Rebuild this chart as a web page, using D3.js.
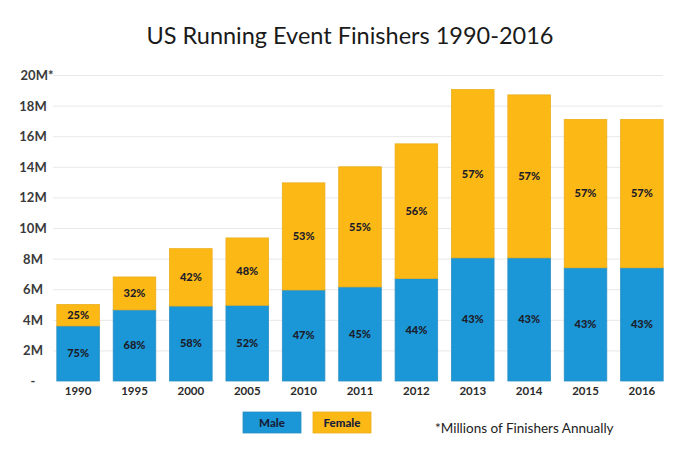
<!DOCTYPE html>
<html>
<head>
<meta charset="utf-8">
<script src="https://cdn.jsdelivr.net/npm/d3@7"></script>
<style>
  html, body { margin: 0; padding: 0; background: #fff; }
  svg { display: block; }
</style>
</head>
<body>
<svg id="chart" width="676" height="459"></svg>
<script>
// ---- data (millions of finishers) ----
const years = ["1990","1995","2000","2005","2010","2011","2012","2013","2014","2015","2016"];
const male   = [3.6, 4.65, 4.9, 4.95, 5.95, 6.15, 6.7, 8.05, 8.05, 7.4, 7.4];
const female = [1.4, 2.15, 3.75, 4.4, 7.0, 7.85, 8.8, 11.0, 10.65, 9.7, 9.7];
const malePct   = ["75%","68%","58%","52%","47%","45%","44%","43%","43%","43%","43%"];
const femalePct = ["25%","32%","42%","48%","53%","55%","56%","57%","57%","57%","57%"];
const yTicks = [0, 2, 4, 6, 8, 10, 12, 14, 16, 18, 20];
const yTickLabels = ["-", "2M", "4M", "6M", "8M", "10M", "12M", "14M", "16M", "18M", "20M*"];
const seriesNames = ["Male", "Female"];
const title = "US Running Event Finishers 1990-2016";
const footnote = "*Millions of Finishers Annually";

(function () {
const colors = { Male: "#1b96d6", Female: "#fcb814" };
const font = "Lato, 'Open Sans', sans-serif";

const svg = d3.select("#chart");
const mLeft = 53, mRight = 663, mTop = 75, mBottom = 381;

const x = d3.scaleBand().domain(years).range([mLeft + 1, mRight + 3]).paddingInner(0.245).paddingOuter(0.05);
const y = d3.scaleLinear().domain([0, 20]).range([mBottom, mTop]);

// title
svg.append("text")
  .attr("x", 350).attr("y", 44)
  .attr("text-anchor", "middle")
  .attr("font-family", font)
  .attr("font-size", 23.5)
  .attr("fill", "#1a1a1a")
  .text(title);

// gridlines
svg.append("g").selectAll("line")
  .data(yTicks.filter(d => d > 0))
  .join("line")
  .attr("x1", mLeft).attr("x2", mRight)
  .attr("y1", d => y(d) + 0.5).attr("y2", d => y(d) + 0.5)
  .attr("stroke", "#e8e8e8").attr("stroke-width", 1);

// y axis
const yAxis = svg.append("g")
  .attr("transform", `translate(${mLeft},0)`)
  .call(d3.axisLeft(y).tickValues(yTicks).tickFormat((d, i) => yTickLabels[i]).tickSize(0));
yAxis.select(".domain").remove();
yAxis.selectAll("text")
  .attr("font-family", font)
  .attr("font-size", 13)
  .attr("font-weight", "bold")
  .attr("fill", "#3a3a3a")
  .attr("text-anchor", "middle")
  .attr("x", 33 - mLeft)
  .attr("dy", "0.35em");
yAxis.selectAll(".tick").filter(d => d === 20).select("text")
  .attr("x", 37 - mLeft);

// x axis
const xAxis = svg.append("g")
  .attr("transform", `translate(0,${mBottom})`)
  .call(d3.axisBottom(x).tickSize(0));
xAxis.select(".domain").remove();
xAxis.selectAll("text")
  .attr("font-family", font)
  .attr("font-size", 11.5)
  .attr("font-weight", "bold")
  .attr("fill", "#2a2a2a")
  .attr("dy", "0.95em");

// stacked bars
const rows = years.map((yr, i) => ({ year: yr, Male: male[i], Female: female[i], mp: malePct[i], fp: femalePct[i] }));
const stack = d3.stack().keys(seriesNames)(rows);

const g = svg.append("g");
stack.forEach(layer => {
  g.append("g").selectAll("rect")
    .data(layer)
    .join("rect")
    .attr("x", d => x(d.data.year))
    .attr("width", x.bandwidth())
    .attr("y", d => y(d[1]))
    .attr("height", d => y(d[0]) - y(d[1]))
    .attr("fill", colors[layer.key])
    .attr("stroke", layer.key === "Male" ? "#2a8fc4" : "#eaae1c")
    .attr("stroke-width", 0.8);

  g.append("g").selectAll("text")
    .data(layer)
    .join("text")
    .attr("x", d => x(d.data.year) + x.bandwidth() / 2)
    .attr("y", d => (y(d[0]) + y(d[1])) / 2)
    .attr("dy", "0.35em")
    .attr("text-anchor", "middle")
    .attr("font-family", font)
    .attr("font-size", 11)
    .attr("font-weight", 900)
    .attr("fill", "#1c1c2a")
    .text(d => layer.key === "Male" ? d.data.mp : d.data.fp);
});

// legend
const legendX = [243, 313];
seriesNames.forEach((name, i) => {
  svg.append("rect")
    .attr("x", legendX[i]).attr("y", 412)
    .attr("width", 58).attr("height", 21)
    .attr("fill", colors[name])
    .attr("stroke", name === "Male" ? "#2a8fc4" : "#eaae1c")
    .attr("stroke-width", 0.8);
  svg.append("text")
    .attr("x", legendX[i] + 29).attr("y", 422.5)
    .attr("dy", "0.35em")
    .attr("text-anchor", "middle")
    .attr("font-family", font)
    .attr("font-size", 11.5)
    .attr("font-weight", 900)
    .attr("fill", "#17213a")
    .text(name);
});

svg.append("text")
  .attr("x", 435).attr("y", 433)
  .attr("font-family", font)
  .attr("font-size", 13.5)
  .attr("fill", "#222")
  .text(footnote);
})();
</script>
</body>
</html>
